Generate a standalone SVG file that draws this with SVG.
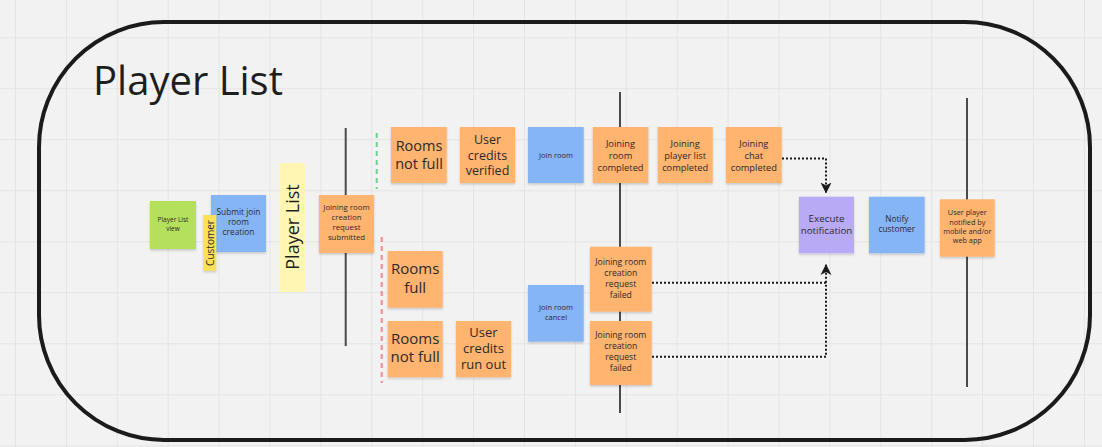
<svg xmlns="http://www.w3.org/2000/svg" width="1102" height="447" viewBox="0 0 1102 447">
<defs>
<pattern id="grid" patternUnits="userSpaceOnUse" x="15" y="37.3" width="50.9" height="51">
<rect width="50.9" height="51" fill="#f2f2f2"/>
<path d="M0,0 V51 M0,0 H50.9" stroke="#e4e4e4" stroke-width="2" fill="none"/>
</pattern>
<filter id="sh" x="-10%" y="-10%" width="120%" height="130%">
<feDropShadow dx="0" dy="1.5" stdDeviation="1" flood-color="#000" flood-opacity="0.18"/>
</filter>
<marker id="ah" markerUnits="userSpaceOnUse" markerWidth="12" markerHeight="12" viewBox="0 0 12 12" refX="11" refY="6" orient="auto">
<path d="M0,0.5 L11,6 L0,11.5 L3,6 Z" fill="#1a1a1a"/>
</marker>
</defs>
<style>
text{font-family:"Open Sans","Noto Sans","DejaVu Sans",sans-serif;fill:#2b2b2b;text-anchor:middle}
.or{fill:#ffb470}
.bl{fill:#86b5f6}
.gr{fill:#b5e05c}
.pu{fill:#b9aaf6}
.ye{fill:#fde05a}
.py{fill:#fff6b3}
.st{filter:url(#sh)}
.vl{stroke:#4a4a4a;stroke-width:2;fill:none}
.con{stroke:#1a1a1a;stroke-width:2;stroke-dasharray:2 2;fill:none}
</style>
<rect width="1102" height="447" fill="url(#grid)"/>
<g id="frame">
<rect x="39" y="22" width="1051" height="418" rx="125" ry="125" fill="none" stroke="#1b1b1b" stroke-width="4"/>
<text x="93" y="95" style="font-size:40px;text-anchor:start;fill:#1e1e1e">Player List</text>
</g>
<g id="lines">
<line class="vl" x1="345.7" y1="128" x2="345.7" y2="346"/>
<line class="vl" x1="620" y1="92" x2="620" y2="413"/>
<line class="vl" x1="967" y1="98" x2="967" y2="387"/>
<line x1="376.7" y1="133" x2="376.7" y2="189" stroke="#6fd08f" stroke-width="2" stroke-dasharray="5 4"/>
<line x1="381.7" y1="237" x2="381.7" y2="383" stroke="#f08a8a" stroke-width="2" stroke-dasharray="5 4"/>
</g>
<g id="player-list-view"><rect class="gr st" x="150" y="201" width="46" height="48"/><text style="font-size:6.5px"><tspan x="173" y="222">Player List</tspan><tspan x="173" y="230.5">view</tspan></text></g>
<g id="submit-join"><rect class="bl st" x="211" y="195" width="55" height="57"/><text style="font-size:8.3px"><tspan x="238.5" y="215">Submit join</tspan><tspan x="238.5" y="225">room</tspan><tspan x="238.5" y="235">creation</tspan></text></g>
<g id="customer"><rect class="ye st" x="203.3" y="215" width="13" height="55.7"/><text transform="translate(210,243) rotate(-90)" x="0" y="3.5" style="font-size:10px">Customer</text></g>
<g id="player-list-label"><rect class="py" x="279.3" y="163" width="25.7" height="129"/><text transform="translate(292,227) rotate(-90)" x="0" y="6.5" style="font-size:18px;fill:#1e1e1e">Player List</text></g>
<g id="request-submitted"><rect class="or st" x="319" y="195" width="55" height="58"/><text style="font-size:7.8px"><tspan x="346.5" y="210">Joining room</tspan><tspan x="346.5" y="220">creation</tspan><tspan x="346.5" y="230">request</tspan><tspan x="346.5" y="240">submitted</tspan></text></g>
<g id="rooms-not-full-1"><rect class="or st" x="391" y="127" width="55.7" height="56"/><text style="font-size:14.5px"><tspan x="419" y="151">Rooms</tspan><tspan x="419" y="169">not full</tspan></text></g>
<g id="credits-verified"><rect class="or st" x="460" y="127" width="55" height="56"/><text style="font-size:12.5px"><tspan x="487.5" y="144">User</tspan><tspan x="487.5" y="159.5">credits</tspan><tspan x="487.5" y="175">verified</tspan></text></g>
<g id="join-room"><rect class="bl st" x="528" y="127" width="55.7" height="56"/><text x="556" y="157.5" style="font-size:7.5px">Join room</text></g>
<g id="room-completed"><rect class="or st" x="592.7" y="127" width="55.7" height="56"/><text style="font-size:9.3px"><tspan x="620.5" y="146.7">Joining</tspan><tspan x="620.5" y="158.5">room</tspan><tspan x="620.5" y="171">completed</tspan></text></g>
<g id="player-list-completed"><rect class="or st" x="657.7" y="127" width="55" height="56"/><text style="font-size:9.3px"><tspan x="685.2" y="146.7">Joining</tspan><tspan x="685.2" y="158.5">player list</tspan><tspan x="685.2" y="171">completed</tspan></text></g>
<g id="chat-completed"><rect class="or st" x="726" y="127" width="55.7" height="56"/><text style="font-size:9.3px"><tspan x="753.8" y="146.7">Joining</tspan><tspan x="753.8" y="158.5">chat</tspan><tspan x="753.8" y="171">completed</tspan></text></g>
<g id="rooms-full"><rect class="or st" x="387.7" y="251" width="55" height="56.7"/><text style="font-size:15px"><tspan x="415.2" y="274">Rooms</tspan><tspan x="415.2" y="293.3">full</tspan></text></g>
<g id="rooms-not-full-2"><rect class="or st" x="387.7" y="321" width="55" height="56.3"/><text style="font-size:15px"><tspan x="415.2" y="344">Rooms</tspan><tspan x="415.2" y="362.3">not full</tspan></text></g>
<g id="credits-run-out"><rect class="or st" x="456" y="321" width="55" height="56.3"/><text style="font-size:13px"><tspan x="483.5" y="336.7">User</tspan><tspan x="483.5" y="352.7">credits</tspan><tspan x="483.5" y="368.7">run out</tspan></text></g>
<g id="join-room-cancel"><rect class="bl st" x="528" y="285" width="55.7" height="56.7"/><text style="font-size:7.5px"><tspan x="556" y="310">Join room</tspan><tspan x="556" y="320">cancel</tspan></text></g>
<g id="request-failed-1"><rect class="or st" x="590" y="246.7" width="61.7" height="65"/><text style="font-size:8.6px"><tspan x="620.8" y="265">Joining room</tspan><tspan x="620.8" y="276">creation</tspan><tspan x="620.8" y="287">request</tspan><tspan x="620.8" y="298">failed</tspan></text></g>
<g id="request-failed-2"><rect class="or st" x="590" y="321" width="61.7" height="64"/><text style="font-size:8.6px"><tspan x="620.8" y="338.3">Joining room</tspan><tspan x="620.8" y="349.3">creation</tspan><tspan x="620.8" y="360.3">request</tspan><tspan x="620.8" y="371.3">failed</tspan></text></g>
<g id="execute-notification"><rect class="pu st" x="799" y="196.7" width="55" height="56.6"/><text style="font-size:9.8px"><tspan x="826.5" y="221.7">Execute</tspan><tspan x="826.5" y="233.5">notification</tspan></text></g>
<g id="notify-customer"><rect class="bl st" x="869" y="196.7" width="55.7" height="56.6"/><text style="font-size:8.3px"><tspan x="896.8" y="221.7">Notify</tspan><tspan x="896.8" y="231.7">customer</tspan></text></g>
<g id="user-notified"><rect class="or st" x="940" y="199.3" width="54.7" height="57.4"/><text style="font-size:7.3px"><tspan x="967.3" y="215.3">User player</tspan><tspan x="967.3" y="224.7">notified by</tspan><tspan x="967.3" y="234">mobile and/or</tspan><tspan x="967.3" y="243.3">web app</tspan></text></g>
<g id="connectors">
<path class="con" d="M782,158.5 H826 V193.5" marker-end="url(#ah)"/>
<path class="con" d="M652,282.7 H826"/>
<path class="con" d="M652,356.7 H826 V264" marker-end="url(#ah)"/>
</g>
</svg>
